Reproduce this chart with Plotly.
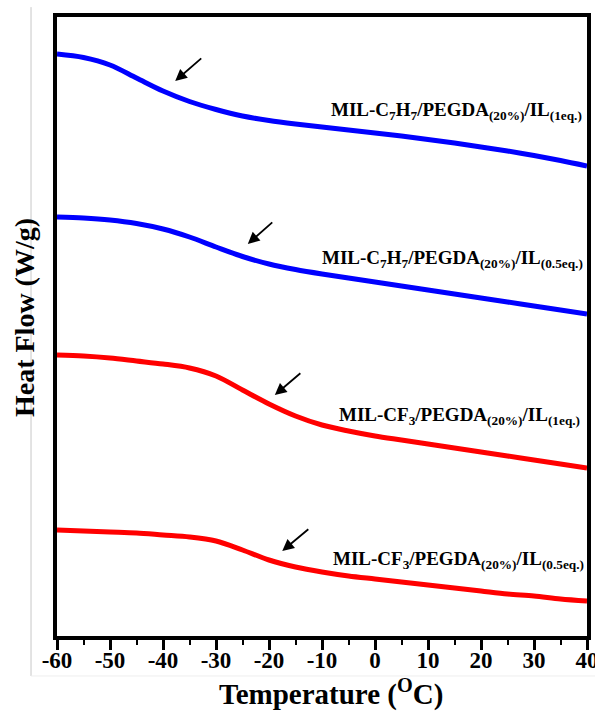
import plotly.graph_objects as go

# Temperature (°C)
temperature = [-60, -55, -50, -45, -40, -35, -30, -25, -20, -15, -10, -5, 0, 5, 10, 15, 20, 25, 30, 35, 40]

# Heat flow (arbitrary offset units, stacked curves)
c7h7_1eq = [58.2, 57.85, 57.1, 55.8, 54.5, 53.45, 52.65, 52.0, 51.55, 51.2, 50.9, 50.6, 50.3, 50.0, 49.65, 49.3, 48.9, 48.5, 48.05, 47.55, 47.0]
c7h7_05eq = [41.9, 41.8, 41.6, 41.25, 40.7, 39.9, 38.9, 37.95, 37.2, 36.65, 36.2, 35.8, 35.4, 35.0, 34.6, 34.2, 33.8, 33.4, 33.0, 32.6, 32.2]
cf3_1eq = [28.1, 28.0, 27.8, 27.5, 27.2, 26.8, 26.0, 24.6, 23.2, 22.0, 21.1, 20.5, 20.0, 19.6, 19.2, 18.8, 18.4, 18.0, 17.6, 17.2, 16.8]
cf3_05eq = [10.6, 10.5, 10.4, 10.3, 10.1, 9.9, 9.5, 8.6, 7.6, 6.9, 6.4, 6.0, 5.7, 5.4, 5.1, 4.8, 4.5, 4.2, 4.0, 3.7, 3.5]

series_names = [
    "MIL-C<sub>7</sub>H<sub>7</sub>/PEGDA<sub>(20%)</sub>/IL<sub>(1eq.)</sub>",
    "MIL-C<sub>7</sub>H<sub>7</sub>/PEGDA<sub>(20%)</sub>/IL<sub>(0.5eq.)</sub>",
    "MIL-CF<sub>3</sub>/PEGDA<sub>(20%)</sub>/IL<sub>(1eq.)</sub>",
    "MIL-CF<sub>3</sub>/PEGDA<sub>(20%)</sub>/IL<sub>(0.5eq.)</sub>",
]
series_values = [c7h7_1eq, c7h7_05eq, cf3_1eq, cf3_05eq]
series_colors = ["#0000FF", "#0000FF", "#FF0000", "#FF0000"]

# Tg arrow positions (tail x, tail y, head x, head y)
arrow_tail_x = [-32.5, -19.1, -13.8, -12.3]
arrow_tail_y = [57.9, 41.5, 26.4, 10.8]
arrow_head_x = [-37.7, -24.0, -18.9, -17.5]
arrow_head_y = [55.5, 39.2, 24.1, 8.5]

# label positions
label_x = [39.4, 39.6, 39.0, 39.8]
label_y = [52.55, 37.75, 22.0, 7.65]

xticks = [-60, -50, -40, -30, -20, -10, 0, 10, 20, 30, 40]

FONT = "Liberation Serif"

fig = go.Figure()
for name, vals, col in zip(series_names, series_values, series_colors):
    fig.add_trace(go.Scatter(x=temperature, y=vals, mode="lines", name=name,
                             line=dict(color=col, width=5, shape="spline", smoothing=0.9),
                             showlegend=False))

annotations = []
for tx, ty, hx, hy in zip(arrow_tail_x, arrow_tail_y, arrow_head_x, arrow_head_y):
    annotations.append(dict(x=hx, y=hy, ax=tx, ay=ty, xref="x", yref="y", axref="x", ayref="y",
                            text="", showarrow=True, arrowhead=2, arrowsize=1.3, arrowwidth=1.8,
                            arrowcolor="black"))
for name, lx, ly in zip(series_names, label_x, label_y):
    annotations.append(dict(x=lx, y=ly, xref="x", yref="y", text=name, showarrow=False,
                            xanchor="right", yanchor="middle",
                            font=dict(family=FONT, size=19, color="black", weight="bold")))
annotations.append(dict(x=0.517, y=-0.092, xref="paper", yref="paper",
                        text="Temperature (<sup>O</sup>C)", showarrow=False,
                        xanchor="center", yanchor="middle",
                        font=dict(family=FONT, size=29, color="black", weight="bold")))
annotations.append(dict(x=-0.06, y=0.514, xref="paper", yref="paper",
                        text="Heat Flow (W/g)", showarrow=False, textangle=-90,
                        xanchor="center", yanchor="middle",
                        font=dict(family=FONT, size=28, color="black", weight="bold")))

fig.update_layout(
    width=595, height=711,
    margin=dict(l=57, r=8, t=17, b=75, autoexpand=False),
    paper_bgcolor="white", plot_bgcolor="white",
    annotations=annotations,
    shapes=[
        dict(type="line", xref="paper", yref="paper", x0=-0.049, x1=-0.049, y0=1.016, y1=-0.0646,
             line=dict(color="#c8c8c8", width=1)),
        dict(type="line", xref="paper", yref="paper", x0=-0.049, x1=1.02, y0=-0.0646, y1=-0.0646,
             line=dict(color="#eeeeee", width=1)),
    ],
)
fig.update_xaxes(range=[-60, 40], tickvals=xticks, ticktext=[str(t) for t in xticks],
                 automargin=False, ticklabeloverflow="allow",
                 showline=True, linecolor="black", linewidth=3.5, mirror=True,
                 ticks="outside", ticklen=10, tickwidth=3, tickcolor="black",
                 ticklabelstandoff=-9,
                 minor=dict(ticks="outside", ticklen=5, tickwidth=2, dtick=5, tick0=-55, tickcolor="black"),
                 tickfont=dict(family=FONT, size=23, color="black", weight="bold"),
                 showgrid=False, zeroline=False)
fig.update_yaxes(range=[0, 61.9], automargin=False,
                 showline=True, linecolor="black", linewidth=3.5, mirror=True,
                 showticklabels=False, ticks="", showgrid=False, zeroline=False)

fig.write_html("out.html")
